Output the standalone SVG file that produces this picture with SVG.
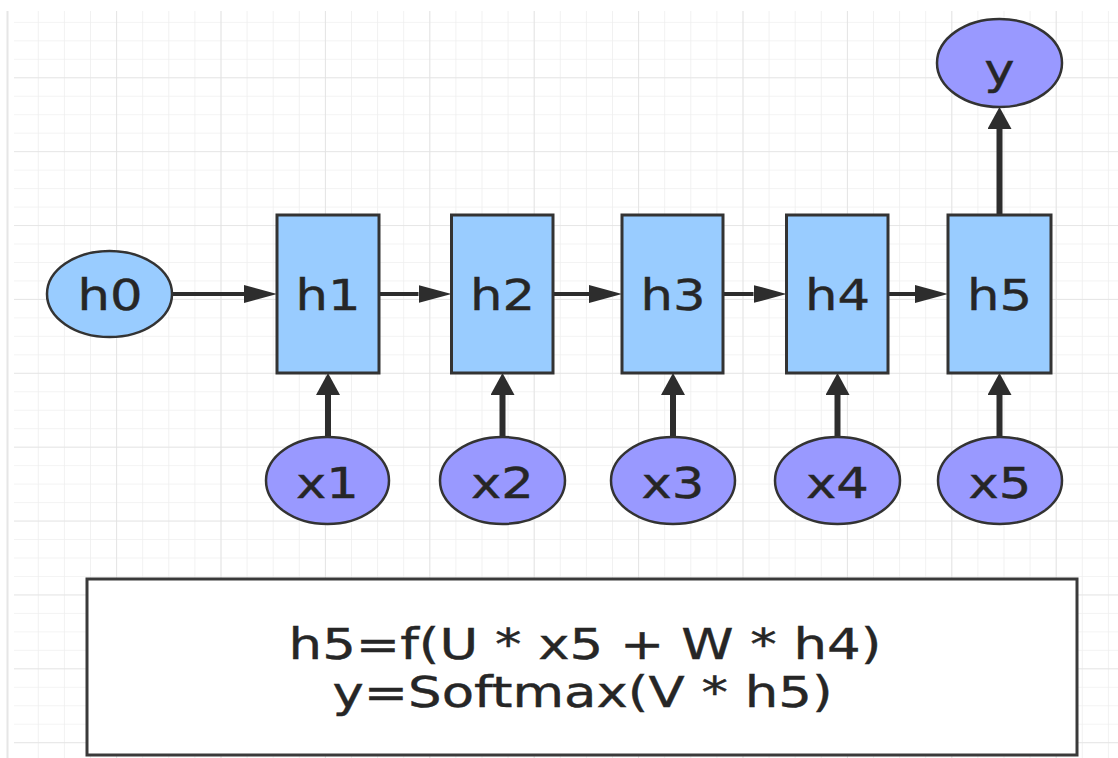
<svg xmlns="http://www.w3.org/2000/svg" width="1118" height="758" viewBox="0 0 1118 758">
  <defs>
    <pattern id="gMinor" patternUnits="userSpaceOnUse" x="11.7" y="3.4" width="26.1" height="18.47">
      <path d="M0 0 V18.47 M0 0 H26.1" fill="none" stroke="#efefef" stroke-width="1.6"/>
    </pattern>
    <pattern id="gMajor" patternUnits="userSpaceOnUse" x="11.7" y="3.4" width="104.4" height="73.88">
      <path d="M0 0 V73.88 M0 0 H104.4" fill="none" stroke="#e2e2e2" stroke-width="1.6"/>
    </pattern>
    <marker id="ah" markerUnits="userSpaceOnUse" markerWidth="34" markerHeight="18" refX="0" refY="9" orient="auto">
      <path d="M0 0 L33 9 L0 18 Z" fill="#2d2d2d"/>
    </marker>
    <marker id="av" markerUnits="userSpaceOnUse" markerWidth="23" markerHeight="24" refX="0" refY="12" orient="auto">
      <path d="M0 0 L22 12 L0 24 Z" fill="#2d2d2d"/>
    </marker>
    <style>
      .hbox { fill: #99ccff; stroke: #333333; stroke-width: 3; }
      .hell { fill: #99ccff; stroke: #333333; stroke-width: 2.5; }
      .xell { fill: #9999ff; stroke: #333333; stroke-width: 2.5; }
      .lbl { font-family: "DejaVu Sans", Verdana, sans-serif; font-size: 42px; fill: #262626; stroke: #262626; stroke-width: 0.4; text-anchor: middle; }
      .hline { stroke: #2d2d2d; stroke-width: 4; fill: none; }
      .vline { stroke: #2d2d2d; stroke-width: 6; fill: none; }
      .formula { fill: #ffffff; stroke: #3a3a3a; stroke-width: 3; }
    </style>
  </defs>

  <!-- background grid -->
  <rect x="0" y="0" width="1118" height="758" fill="#ffffff"/>
  <rect x="14" y="11" width="1104" height="747" fill="url(#gMinor)"/>
  <rect x="14" y="11" width="1104" height="747" fill="url(#gMajor)"/>
  <line x1="7.5" y1="11" x2="7.5" y2="758" stroke="#e6e6e6" stroke-width="2"/>

  <!-- connectors -->
  <g id="connectors">
    <line class="hline" x1="172" y1="294" x2="244" y2="294" marker-end="url(#ah)"/>
    <line class="hline" x1="379" y1="294" x2="418.5" y2="294" marker-end="url(#ah)"/>
    <line class="hline" x1="553" y1="294" x2="589" y2="294" marker-end="url(#ah)"/>
    <line class="hline" x1="723" y1="294" x2="753.5" y2="294" marker-end="url(#ah)"/>
    <line class="hline" x1="888" y1="294" x2="915" y2="294" marker-end="url(#ah)"/>
    <line class="vline" x1="328" y1="437" x2="328" y2="395" marker-end="url(#av)"/>
    <line class="vline" x1="502.5" y1="437" x2="502.5" y2="395" marker-end="url(#av)"/>
    <line class="vline" x1="673" y1="437" x2="673" y2="395" marker-end="url(#av)"/>
    <line class="vline" x1="837.5" y1="437" x2="837.5" y2="395" marker-end="url(#av)"/>
    <line class="vline" x1="999.5" y1="437" x2="999.5" y2="395" marker-end="url(#av)"/>
    <line class="vline" x1="999.5" y1="215" x2="999.5" y2="129" marker-end="url(#av)"/>
  </g>

  <!-- nodes -->
  <g id="h0">
    <ellipse class="hell" cx="109.5" cy="294" rx="62.5" ry="43"/>
    <text class="lbl" transform="translate(110,310) scale(1.22,1)">h0</text>
  </g>
  <g id="h1">
    <rect class="hbox" x="277" y="215" width="102" height="158"/>
    <text class="lbl" transform="translate(328,310) scale(1.22,1)">h1</text>
  </g>
  <g id="h2">
    <rect class="hbox" x="451.5" y="215" width="101.5" height="158"/>
    <text class="lbl" transform="translate(502.5,310) scale(1.22,1)">h2</text>
  </g>
  <g id="h3">
    <rect class="hbox" x="622" y="215" width="101" height="158"/>
    <text class="lbl" transform="translate(673,310) scale(1.22,1)">h3</text>
  </g>
  <g id="h4">
    <rect class="hbox" x="786.5" y="215" width="101.5" height="158"/>
    <text class="lbl" transform="translate(837.5,310) scale(1.22,1)">h4</text>
  </g>
  <g id="h5">
    <rect class="hbox" x="948" y="215" width="103" height="158"/>
    <text class="lbl" transform="translate(999.5,310) scale(1.22,1)">h5</text>
  </g>
  <g id="y">
    <ellipse class="xell" cx="999.5" cy="63" rx="62.5" ry="44"/>
    <text class="lbl" transform="translate(999.5,84) scale(1.22,1)">y</text>
  </g>
  <g id="x1">
    <ellipse class="xell" cx="327.5" cy="480.5" rx="61.5" ry="43.5"/>
    <text class="lbl" transform="translate(327.5,498) scale(1.22,1)">x1</text>
  </g>
  <g id="x2">
    <ellipse class="xell" cx="502.5" cy="480.5" rx="62.5" ry="43.5"/>
    <text class="lbl" transform="translate(502.5,498) scale(1.22,1)">x2</text>
  </g>
  <g id="x3">
    <ellipse class="xell" cx="673" cy="480.5" rx="62" ry="43.5"/>
    <text class="lbl" transform="translate(673,498) scale(1.22,1)">x3</text>
  </g>
  <g id="x4">
    <ellipse class="xell" cx="837.5" cy="480.5" rx="62.5" ry="43.5"/>
    <text class="lbl" transform="translate(837.5,498) scale(1.22,1)">x4</text>
  </g>
  <g id="x5">
    <ellipse class="xell" cx="1000" cy="480.5" rx="62" ry="43.5"/>
    <text class="lbl" transform="translate(1000,498) scale(1.22,1)">x5</text>
  </g>
  <g id="formula">
    <rect class="formula" x="87" y="579" width="990" height="176"/>
    <text class="lbl" transform="translate(585,659) scale(1.26,1)">h5=f(U * x5 + W * h4)</text>
    <text class="lbl" transform="translate(582.5,707) scale(1.26,1)">y=Softmax(V * h5)</text>
  </g>
</svg>
